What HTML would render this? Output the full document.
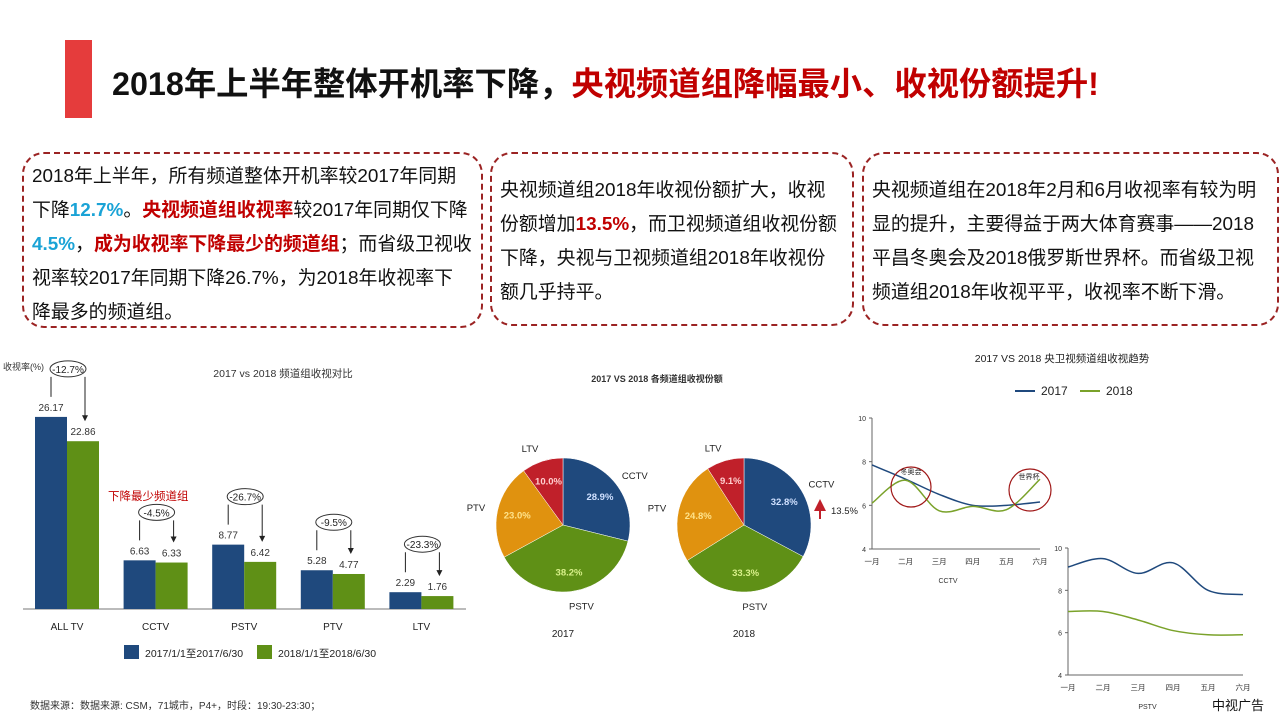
<!DOCTYPE html>
<html><head><meta charset="utf-8">
<style>
body{margin:0;width:1280px;height:720px;background:#fff;position:relative;overflow:hidden;font-family:"Liberation Sans","Noto Sans CJK SC",sans-serif;}
.abs{position:absolute;}
.box{position:absolute;border:2px dashed #9b2323;border-radius:22px;box-sizing:border-box;font-size:18.9px;line-height:34px;color:#111;padding:5px 8px;white-space:nowrap;}
.b{color:#1aa3d6;font-weight:bold}
.r{color:#c00000;font-weight:bold}
</style></head><body>
<div class="abs" style="left:65px;top:40px;width:27px;height:78px;background:#e53c3c"></div>
<div class="abs" style="left:112px;top:59px;font-size:32.3px;font-weight:bold;color:#111;white-space:nowrap">2018年上半年整体开机率下降，<span style="color:#c00000">央视频道组降幅最小、收视份额提升!</span></div>

<div class="box" style="left:22px;top:152px;width:461px;height:176px;padding-top:6px">2018年上半年，所有频道整体开机率较2017年同期<br>下降<span class="b">12.7%</span>。<span class="r">央视频道组收视率</span>较2017年同期仅下降<br><span class="b">4.5%</span>，<span class="r">成为收视率下降最少的频道组</span>；而省级卫视收<br>视率较2017年同期下降26.7%，为2018年收视率下<br>降最多的频道组。</div>
<div class="box" style="left:490px;top:152px;width:364px;height:174px;padding-top:20px">央视频道组2018年收视份额扩大，收视<br>份额增加<span class="r">13.5%</span>，而卫视频道组收视份额<br>下降，央视与卫视频道组2018年收视份<br>额几乎持平。</div>
<div class="box" style="left:862px;top:152px;width:417px;height:174px;padding-top:20px">央视频道组在2018年2月和6月收视率有较为明<br>显的提升，主要得益于两大体育赛事——2018<br>平昌冬奥会及2018俄罗斯世界杯。而省级卫视<br>频道组2018年收视平平，收视率不断下滑。</div>

<svg class="abs" style="left:0;top:0" width="1280" height="720" id="svg" font-family="Liberation Sans, Noto Sans CJK SC, sans-serif"></svg>

<div class="abs" style="left:30px;top:697px;font-size:10px;color:#333">数据来源：数据来源: CSM，71城市，P4+，时段：19:30-23:30；</div>
<div class="abs" style="left:1212px;top:695px;font-size:13px;color:#111">中视广告</div>

<script>
const barCats=["ALL TV","CCTV","PSTV","PTV","LTV"];
const bar2017=[26.17,6.63,8.77,5.28,2.29];
const bar2018=[22.86,6.33,6.42,4.77,1.76];
const barChange=["-12.7%","-4.5%","-26.7%","-9.5%","-23.3%"];
const pieCats=["CCTV","PSTV","PTV","LTV"];
const pie2017=[28.9,38.2,23.0,10.0];
const pie2018=[32.8,33.3,24.8,9.1];
const months=["一月","二月","三月","四月","五月","六月"];
const cctv2017=[7.85,7.2,6.5,6.0,6.0,6.15];
const cctv2018=[6.1,7.15,5.75,5.95,5.8,7.2];
const pstv2017=[9.1,9.5,8.8,9.3,8.0,7.8];
const pstv2018=[7.0,7.0,6.6,6.1,5.9,5.9];
const lineTicks=[4,6,8,10];

const svg=document.getElementById('svg');const NS="http://www.w3.org/2000/svg";
function mk(tag,a,name,txt){const e=document.createElementNS(NS,tag);for(const k in a)e.setAttribute(k,a[k]);


if(txt!==undefined)e.textContent=txt;svg.appendChild(e);return e;}
const BLUE="#1f497d",GREEN="#5f9016";

// bar chart
const base=609,ppu=7.34,gx0=67,gstep=88.6,bw=32;
const by=v=>base-v*ppu;
mk('text',{x:3,y:370,'font-size':9,fill:'#333'},'y-axis-title','收视率(%)');
mk('text',{x:283,y:377,'font-size':10.5,fill:'#333','text-anchor':'middle'},'bar-chart-title','2017 vs 2018 频道组收视对比');
mk('line',{x1:23,x2:466,y1:base,y2:base,stroke:'#777','stroke-width':1},'x-axis','');
barCats.forEach((c,i)=>{const cx=gx0+i*gstep;
 mk('rect',{x:cx-bw,y:by(bar2017[i]),width:bw,height:bar2017[i]*ppu,fill:BLUE},'bar-2017-'+i);
 mk('rect',{x:cx,y:by(bar2018[i]),width:bw,height:bar2018[i]*ppu,fill:GREEN},'bar-2018-'+i);
 mk('text',{x:cx-bw/2,y:by(bar2017[i])-6,'font-size':10,fill:'#333','text-anchor':'middle'},'value-2017-'+i,bar2017[i].toFixed(2));
 mk('text',{x:cx+bw/2,y:by(bar2018[i])-6,'font-size':10,fill:'#333','text-anchor':'middle'},'value-2018-'+i,bar2018[i].toFixed(2));
 mk('text',{x:cx,y:630,'font-size':10,fill:'#222','text-anchor':'middle'},'category-label',c);
 const ey=by(bar2017[i])-40, lx=cx-bw/2, rx=cx+bw/2+2;
 mk('path',{d:`M${lx},${by(bar2017[i])-20}V${ey}M${rx},${ey}V${by(bar2018[i])-24}`,stroke:'#222',fill:'none'},'change-bracket');
 mk('path',{d:`M${rx-3},${by(bar2018[i])-26}L${rx+3},${by(bar2018[i])-26}L${rx},${by(bar2018[i])-20}Z`,fill:'#222'},'change-arrowhead');
 mk('ellipse',{cx:cx+1,cy:ey-8,rx:18,ry:8,fill:'#fff',stroke:'#333'},'change-ellipse');
 mk('text',{x:cx+1,y:ey-4,'font-size':10,fill:'#222','text-anchor':'middle'},'change-label',barChange[i]);
});
mk('text',{x:108,y:500,'font-size':11.5,fill:'#c00000'},'annotation-least-drop','下降最少频道组');
mk('rect',{x:124,y:645,width:15,height:14,fill:BLUE},'legend-swatch-2017');
mk('text',{x:145,y:657,'font-size':10.5,fill:'#222'},'legend-label-2017','2017/1/1至2017/6/30');
mk('rect',{x:257,y:645,width:15,height:14,fill:GREEN},'legend-swatch-2018');
mk('text',{x:278,y:657,'font-size':10.5,fill:'#222'},'legend-label-2018','2018/1/1至2018/6/30');

// pies
mk('text',{x:657,y:382,'font-size':9,fill:'#333','text-anchor':'middle','font-weight':'bold'},'pie-chart-title','2017 VS 2018 各频道组收视份额');
const pieCols=[BLUE,GREEN,"#e0920f","#c0202a"],lblCols=["#cfe0ff","#d8f08a","#ffe38a","#ffd0d0"];
function pie(cx,cy,r,vals,year,id){let tot=vals.reduce((a,b)=>a+b,0),a0=-Math.PI/2;
 vals.forEach((v,i)=>{const a1=a0+v/tot*2*Math.PI,large=(a1-a0)>Math.PI?1:0;
  mk('path',{d:`M${cx},${cy}L${cx+r*Math.cos(a0)},${cy+r*Math.sin(a0)}A${r},${r} 0 ${large} 1 ${cx+r*Math.cos(a1)},${cy+r*Math.sin(a1)}Z`,fill:pieCols[i],stroke:'#fff','stroke-width':0.5},id+'-slice-'+pieCats[i]);
  const m=(a0+a1)/2,lr=r*0.7;
  mk('text',{x:cx+lr*Math.cos(m),y:cy+lr*Math.sin(m)+4,'font-size':9.5,fill:lblCols[i],'text-anchor':'middle','font-weight':'bold'},id+'-pct-label',v.toFixed(1)+'%');
  const orr=r+14;
  mk('text',{x:cx+orr*Math.cos(m)+(Math.cos(m)>0?8:-8),y:cy+orr*Math.sin(m)+4,'font-size':9.5,fill:'#222','text-anchor':'middle'},id+'-cat-label',pieCats[i]);
  a0=a1;});
 mk('text',{x:cx,y:637,'font-size':10,fill:'#222','text-anchor':'middle'},id+'-year-label',year);
}
pie(563,525,67,pie2017,'2017','pie-2017');
pie(744,525,67,pie2018,'2018','pie-2018');
mk('path',{d:'M819,511L814,511L820,499L826,511L821,511L821,519L819,519Z',fill:'#c0202a'},'share-up-arrow');
mk('text',{x:831,y:514,'font-size':9.5,fill:'#222'},'share-change-label','13.5%');

// line charts
mk('text',{x:1062,y:362,'font-size':10.5,fill:'#222','text-anchor':'middle'},'line-chart-title','2017 VS 2018 央卫视频道组收视趋势');
mk('line',{x1:1015,x2:1035,y1:391,y2:391,stroke:BLUE,'stroke-width':2},'legend-line-2017');
mk('text',{x:1041,y:395,'font-size':12,fill:'#222'},'legend-text-2017','2017');
mk('line',{x1:1080,x2:1100,y1:391,y2:391,stroke:'#7aa22a','stroke-width':2},'legend-line-2018');
mk('text',{x:1106,y:395,'font-size':12,fill:'#222'},'legend-text-2018','2018');
function smooth(pts){let d=`M${pts[0][0]},${pts[0][1]}`;for(let i=0;i<pts.length-1;i++){const p0=pts[i-1]||pts[i],p1=pts[i],p2=pts[i+1],p3=pts[i+2]||p2;
 d+=`C${p1[0]+(p2[0]-p0[0])/6},${p1[1]+(p2[1]-p0[1])/6} ${p2[0]-(p3[0]-p1[0])/6},${p2[1]-(p3[1]-p1[1])/6} ${p2[0]},${p2[1]}`;}return d;}
function lineChart(x0,x1,yTop,yBot,s17,s18,label,id){
 const sx=i=>x0+i*(x1-x0)/5,sy=v=>yBot-(v-4)*(yBot-yTop)/6;
 mk('line',{x1:x0,x2:x0,y1:yTop,y2:yBot,stroke:'#666'},id+'-y-axis');
 mk('line',{x1:x0,x2:x1,y1:yBot,y2:yBot,stroke:'#666'},id+'-x-axis');
 lineTicks.forEach(t=>{mk('line',{x1:x0-3,x2:x0,y1:sy(t),y2:sy(t),stroke:'#666'},id+'-tick');
  mk('text',{x:x0-6,y:sy(t)+3,'font-size':7,fill:'#333','text-anchor':'end'},id+'-tick-label',t);});
 months.forEach((m,i)=>mk('text',{x:sx(i),y:yBot+15,'font-size':7.5,fill:'#333','text-anchor':'middle'},id+'-month-label',m));
 mk('text',{x:(x0+x1)/2-8,y:yBot+34,'font-size':7,fill:'#333','text-anchor':'middle'},id+'-name',label);
 mk('path',{d:smooth(s17.map((v,i)=>[sx(i),sy(v)])),stroke:BLUE,fill:'none','stroke-width':1.5},id+'-line-2017');
 mk('path',{d:smooth(s18.map((v,i)=>[sx(i),sy(v)])),stroke:'#7aa22a',fill:'none','stroke-width':1.5},id+'-line-2018');
}
lineChart(872,1040,418,549,cctv2017,cctv2018,'CCTV','cctv');
lineChart(1068,1243,548,675,pstv2017,pstv2018,'PSTV','pstv');
mk('circle',{cx:911,cy:487,r:20,fill:'none',stroke:'#a01818','stroke-width':1.2},'winter-olympics-circle');
mk('text',{x:911,y:474,'font-size':7,fill:'#222','text-anchor':'middle'},'winter-olympics-label','冬奥会');
mk('circle',{cx:1030,cy:490,r:21,fill:'none',stroke:'#a01818','stroke-width':1.2},'world-cup-circle');
mk('text',{x:1029,y:479,'font-size':7,fill:'#222','text-anchor':'middle'},'world-cup-label','世界杯');
</script>
</body></html>
